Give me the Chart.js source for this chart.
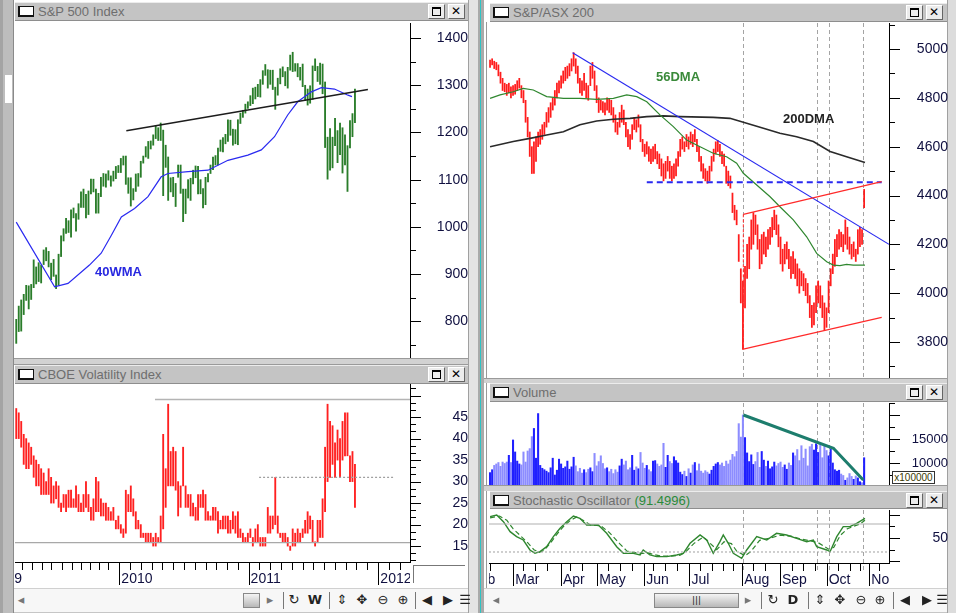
<!DOCTYPE html>
<html>
<head>
<meta charset="utf-8">
<title>S&amp;P 500 / S&amp;P/ASX 200</title>
<script src="https://cdn.jsdelivr.net/npm/chart.js@4.4.1/dist/chart.umd.min.js"></script>
<style>
  body { margin: 0; width: 956px; height: 613px; position: relative; overflow: hidden; background: #c6c6c6; font-family: "Liberation Sans", Arial, sans-serif; }
  .box { position: absolute; }
  .pane { position: absolute; background: #fff; }
  .title { position: absolute; background: #c4c4c4; border-top: 1px solid #ececec; border-bottom: 1px solid #8e8e8e; box-sizing: border-box; }
  .title .ico { position: absolute; left: 3px; top: 3px; width: 13px; height: 8px; background: #fff; border: 1px solid #111; border-bottom-width: 2px; border-left-width: 2px; }
  .title .txt { position: absolute; left: 23px; top: 1px; font-size: 13px; color: #6e6e6e; white-space: nowrap; }
  .title .b { position: absolute; top: 1px; width: 17px; height: 15px; background: #ececec; border: 1px solid; border-color: #fff #666 #666 #fff; box-sizing: border-box; }
  .title .max::after { content: ""; position: absolute; left: 3px; top: 2px; width: 7px; height: 6px; border: 1px solid #000; border-top-width: 2px; }
  .title .cls::after { content: "\2715"; position: absolute; left: 2px; top: -1px; font: bold 12px "DejaVu Sans"; color: #000; }
  canvas { position: absolute; }
  .lbl { position: absolute; font-weight: bold; font-size: 13px; white-space: nowrap; }
  .tb { position: absolute; top: 588px; height: 23px; background: #f7f7f7; border-top: 1px solid #d0d0d0; }
  .tb span { position: absolute; top: 3px; font: 13px "DejaVu Sans"; color: #222; transform: translateX(-50%); }
  .tb .sep { top: 3px; width: 1px; height: 17px; background: #777; transform: none; }
  .tb .thumb { top: 4px; height: 13px; background: linear-gradient(#f4f4f4, #b8b8b8); border: 1px solid #888; transform: none; font-size: 9px; text-align: center; line-height: 13px; }
</style>
</head>
<body>
<!-- window frame -->
<div class="box" style="left:0;top:0;width:14px;height:613px;background:#bdbdbd;border-left:3px solid #a4a4a4;box-sizing:border-box;border-right:1px solid #8a8a8a"></div>
<div class="box" style="left:5px;top:75px;width:7px;height:28px;background:#fff"></div>
<div class="pane" style="left:14px;top:0;width:455px;height:588px"></div>
<div class="box" style="left:14px;top:358px;width:455px;height:7px;background:#d2d2d2;border-top:1px solid #9a9a9a;border-bottom:1px solid #9a9a9a;box-sizing:border-box"></div>
<div class="box" style="left:468px;top:0;width:10px;height:613px;background:#e4e4e4;border-left:1px solid #a0a0a0;box-sizing:border-box"></div>
<div class="box" style="left:478px;top:0;width:6px;height:613px;background:#aaaaaa"></div>
<div class="box" style="left:480px;top:0;width:1px;height:613px;background:#2ec4c4"></div>
<div class="pane" style="left:484px;top:0;width:464px;height:588px"></div>
<div class="box" style="left:486px;top:22px;width:1px;height:566px;background:#9a9a9a"></div>
<div class="box" style="left:484px;top:378px;width:464px;height:5px;background:#d2d2d2;border-top:1px solid #9a9a9a;box-sizing:border-box"></div>
<div class="box" style="left:484px;top:485px;width:464px;height:6px;background:#d2d2d2;border-top:1px solid #9a9a9a;box-sizing:border-box"></div>
<div class="box" style="left:947px;top:0;width:9px;height:613px;background:#dcdcdc;border-left:1px solid #a0a0a0;box-sizing:border-box"></div>

<!-- title bars -->
<div class="title" style="left:15px;top:2px;width:453px;height:19px"><div class="ico"></div><div class="txt">S&amp;P 500 Index</div><div class="b max" style="right:23px"></div><div class="b cls" style="right:3px"></div></div>
<div class="title" style="left:15px;top:365px;width:453px;height:19px"><div class="ico"></div><div class="txt">CBOE Volatility Index</div><div class="b max" style="right:23px"></div><div class="b cls" style="right:3px"></div></div>
<div class="title" style="left:490px;top:3px;width:457px;height:19px"><div class="ico"></div><div class="txt">S&amp;P/ASX 200</div><div class="b max" style="right:24px"></div><div class="b cls" style="right:4px"></div></div>
<div class="title" style="left:490px;top:383px;width:457px;height:19px"><div class="ico"></div><div class="txt">Volume</div><div class="b max" style="right:24px"></div><div class="b cls" style="right:4px"></div></div>
<div class="title" style="left:490px;top:491px;width:457px;height:18px"><div class="ico"></div><div class="txt">Stochastic Oscillator <span style="color:#2a8a3a">(91.4996)</span></div><div class="b max" style="right:24px"></div><div class="b cls" style="right:4px"></div></div>

<!-- charts -->
<canvas id="spx" width="453" height="335" style="left:15px;top:23px"></canvas>
<canvas id="vix" width="453" height="204" style="left:15px;top:384px"></canvas>
<canvas id="asx" width="459" height="355" style="left:489px;top:23px"></canvas>
<canvas id="vol" width="459" height="82" style="left:489px;top:403px"></canvas>
<canvas id="sto" width="459" height="78" style="left:489px;top:510px"></canvas>

<div class="lbl" style="left:95px;top:264px;color:#2828e0">40WMA</div>
<div class="lbl" style="left:656px;top:69px;color:#3a8a3a">56DMA</div>
<div class="lbl" style="left:783px;top:111px;color:#222">200DMA</div>
<div class="box" style="left:892px;top:471px;width:43px;height:13px;background:#fff;border:1px solid #333;box-sizing:border-box;font-size:10px;line-height:11px;color:#3a3a00;text-align:center">x100000</div>
<div class="box" style="left:413px;top:565px;width:52px;height:18px;border-left:1px solid #777;border-top:1px solid #777;box-sizing:border-box"></div>

<!-- toolbars -->
<div class="tb" style="left:14px;width:454px">
  <span style="left:7px;color:#777">&#9666;</span>
  <span class="thumb" style="left:229px;width:15px"></span>
  <span style="left:256px;color:#777">&#9656;</span>
  <span class="sep" style="left:269px"></span>
  <span style="left:280px">&#8635;</span>
  <span style="left:301px;font-weight:bold">W</span>
  <span class="sep" style="left:315px"></span>
  <span style="left:328px">&#8661;</span>
  <span style="left:348px">&#10021;</span>
  <span style="left:369px">&#8854;</span>
  <span style="left:389px">&#8853;</span>
  <span class="sep" style="left:401px"></span>
  <span style="left:413px">&#9664;</span>
  <span style="left:434px">&#9654;</span>
  <span style="left:451px">&#9776;</span>
</div>
<div class="tb" style="left:484px;width:463px">
  <span style="left:12px;color:#777">&#9666;</span>
  <span class="thumb" style="left:170px;width:83px">|||</span>
  <span style="left:264px;color:#777">&#9656;</span>
  <span class="sep" style="left:277px"></span>
  <span style="left:289px">&#8635;</span>
  <span style="left:309px;font-weight:bold">D</span>
  <span class="sep" style="left:324px"></span>
  <span style="left:336px">&#8661;</span>
  <span style="left:356px">&#10021;</span>
  <span style="left:377px">&#8854;</span>
  <span style="left:396px">&#8853;</span>
  <span class="sep" style="left:409px"></span>
  <span style="left:421px">&#9664;</span>
  <span style="left:443px">&#9654;</span>
  <span style="left:458px">&#9776;</span>
</div>

<script>
// S&P 500 weekly bars, week 0 = mid March 2009
const spxLow = [
  753, 778, 779, 814, 844, 826, 846, 871, 879, 884,
  881, 920, 928, 915, 888, 895, 869, 876, 937, 970,
  986, 988, 978, 1019, 991, 1016, 1041, 1041, 1019, 1026,
  1070, 1074, 1029, 1029, 1064, 1086, 1084, 1099, 1086, 1097,
  1102, 1115, 1115, 1131, 1090, 1071, 1044, 1057, 1075, 1086,
  1105, 1135, 1148, 1145, 1165, 1173, 1187, 1183, 1183, 1066,
  1126, 1056, 1074, 1064, 1043, 1105, 1071, 1011, 1028, 1061,
  1056, 1091, 1104, 1070, 1070, 1040, 1047, 1095, 1113, 1121,
  1131, 1131, 1160, 1159, 1176, 1181, 1194, 1173, 1176, 1174,
  1219, 1232, 1241, 1251, 1257, 1261, 1271, 1276, 1275, 1302,
  1321, 1294, 1302, 1291, 1249, 1279, 1303, 1318, 1299, 1294,
  1332, 1329, 1330, 1318, 1311, 1297, 1268, 1258, 1262, 1270,
  1331, 1308, 1302, 1282, 1168, 1101, 1120, 1125, 1172, 1136,
  1153, 1114, 1131, 1075, 1167, 1191, 1221
];
const spxHigh = [
  804, 832, 845, 857, 876, 875, 878, 930, 915, 924,
  919, 951, 956, 948, 923, 931, 898, 942, 981, 996,
  1018, 1013, 1036, 1040, 1028, 1049, 1074, 1080, 1069, 1076,
  1101, 1101, 1080, 1071, 1105, 1113, 1112, 1119, 1108, 1118,
  1128, 1130, 1145, 1150, 1150, 1104, 1104, 1081, 1112, 1113,
  1139, 1150, 1170, 1181, 1182, 1195, 1214, 1210, 1220, 1205,
  1173, 1148, 1104, 1105, 1092, 1131, 1131, 1080, 1080, 1100,
  1103, 1120, 1129, 1128, 1100, 1081, 1105, 1113, 1131, 1148,
  1151, 1167, 1184, 1189, 1196, 1227, 1226, 1207, 1206, 1227,
  1241, 1247, 1260, 1265, 1278, 1294, 1296, 1302, 1312, 1331,
  1344, 1333, 1332, 1332, 1296, 1315, 1335, 1339, 1329, 1338,
  1364, 1370, 1346, 1346, 1338, 1345, 1300, 1292, 1299, 1341,
  1356, 1340, 1347, 1345, 1307, 1190, 1208, 1190, 1230, 1204,
  1220, 1210, 1195, 1172, 1225, 1240, 1292
];
const wma40X = [0, 15.4, 20.8, 29.4, 34.1, 38.2, 42.2, 47.5, 52.9, 58.2, 60.9, 69, 77, 85, 93, 98.4, 103.7, 109, 113, 118.5, 122.5, 127.8, 133.2, 134.8];
const wma40Y = [1010, 873, 880, 919, 944, 982, 1021, 1039, 1064, 1106, 1113, 1117, 1120, 1141, 1152, 1163, 1191, 1237, 1265, 1286, 1295, 1292, 1279, 1276];
const spxTrendX = [44.2, 141.2];
const spxTrendY = [1203.5, 1291];
const spxTicks = [800, 900, 1000, 1100, 1200, 1300, 1400];

// CBOE VIX weekly bars, same weeks
const vixLow = [
  40, 40, 38, 34, 33, 33, 34, 31, 29, 29,
  27, 27, 27, 27, 25, 25, 26, 24, 23, 24,
  23, 24, 24, 24, 24, 23, 23, 23, 24, 23,
  21, 21, 23, 23, 22, 22, 21, 21, 21, 21,
  19, 19, 18, 17, 18, 23, 23, 22, 19, 19,
  17, 17, 16, 16, 16, 15, 15, 16, 16, 19,
  24, 29, 29, 29, 28, 22, 24, 29, 24, 24,
  22, 22, 21, 21, 24, 24, 21, 21, 21, 21,
  21, 18, 19, 19, 19, 18, 18, 19, 18, 17,
  17, 16, 16, 16, 17, 15, 16, 16, 15, 15,
  15, 18, 18, 19, 20, 18, 17, 16, 16, 15,
  14, 15, 15, 16, 16, 17, 18, 18, 19, 16,
  15, 16, 17, 17, 23, 30, 31, 34, 31, 35,
  31, 35, 36, 36, 30, 30, 24
];
const vixHigh = [
  47, 46, 44, 41, 40, 39, 38, 36, 35, 34,
  33, 32, 30, 33, 31, 29, 30, 29, 25, 27,
  27, 28, 28, 26, 29, 27, 25, 27, 30, 27,
  24, 26, 31, 30, 26, 25, 25, 24, 23, 24,
  21, 22, 20, 19, 28, 27, 29, 26, 23, 21,
  20, 18, 18, 18, 18, 17, 18, 17, 22, 41,
  33, 48, 37, 38, 37, 30, 29, 38, 29, 27,
  27, 25, 24, 27, 27, 28, 27, 23, 22, 24,
  24, 23, 21, 22, 22, 22, 21, 23, 22, 23,
  19, 18, 17, 18, 19, 17, 19, 20, 17, 17,
  17, 24, 22, 22, 31, 22, 18, 18, 18, 17,
  15, 19, 18, 19, 18, 19, 21, 23, 22, 21,
  16, 21, 21, 26, 38, 48, 44, 43, 39, 42,
  40, 44, 46, 46, 36, 37, 34
];
const vixTopX = [55.7, 158.1], vixTopY = [49.1, 49.1];
const vixBaseX = [-0.5, 158.1], vixBaseY = [15.8, 15.8];
const vixMidX = [97.5, 151.3], vixMidY = [31, 31];
const vixTicks = [15, 20, 25, 30, 35, 40, 45];

// weekly axis: month ticks and year labels
const weekMonthTicks = [2.3, 6.4, 10.2, 14, 18.2, 22.3, 26, 29.6, 33.4, 37, 45.7, 50, 54.4, 58.7, 63, 67.4, 71.7, 76, 80.4, 84.7, 89,
  97.6, 102, 106.3, 110.6, 115, 119.3, 123.6, 128, 132.3, 136.6, 141, 149.7, 154];
const weekYearPos = [-11, 41.4, 93.3, 145.4];
const weekYearText = ['2009', '2010', '2011', '2012'];

// S&P/ASX 200 daily bars, day 0 = mid February 2011
const asxLow = [
  4925, 4935, 4920, 4915, 4890, 4860, 4830, 4825, 4810, 4820,
  4800, 4810, 4815, 4830, 4840, 4800, 4780, 4700, 4640, 4560,
  4490, 4490, 4540, 4600, 4610, 4630, 4650, 4680, 4700, 4720,
  4750, 4770, 4800, 4820, 4840, 4860, 4870, 4880, 4890, 4910,
  4930, 4900, 4860, 4820, 4810, 4830, 4800, 4790, 4850, 4880,
  4830, 4780, 4740, 4750, 4740, 4730, 4750, 4740, 4730, 4700,
  4660, 4650, 4680, 4700, 4690, 4640, 4600, 4590, 4630, 4670,
  4660, 4680, 4620, 4580, 4560, 4570, 4540, 4530, 4540, 4550,
  4530, 4510, 4480, 4460, 4470, 4500, 4470, 4460, 4470, 4480,
  4520, 4560, 4590, 4580, 4600, 4590, 4610, 4600, 4620, 4580,
  4540, 4500, 4470, 4460, 4450, 4460, 4500, 4540, 4570, 4580,
  4560, 4530, 4520, 4450, 4440, 4430, 4330, 4300, 4280, 4130,
  3960, 3770, 3940, 4060, 4100, 4180, 4200, 4240, 4180, 4100,
  4120, 4160, 4150, 4180, 4200, 4230, 4260, 4240, 4190, 4120,
  4090, 4120, 4140, 4100, 4060, 4080, 4060, 4030, 4000, 4030,
  4010, 3990, 3960, 3900, 3860, 3870, 3920, 3960, 3940, 3900,
  3850, 3860, 3920, 4030, 4080, 4110, 4150, 4180, 4190, 4170,
  4200, 4180, 4160, 4140, 4150, 4130, 4160, 4190, 4200, 4350
];
const asxHigh = [
  4955, 4960, 4950, 4945, 4935, 4905, 4880, 4860, 4855, 4860,
  4845, 4850, 4855, 4870, 4880, 4850, 4830, 4790, 4720, 4660,
  4600, 4620, 4640, 4660, 4670, 4690, 4700, 4740, 4760, 4780,
  4800, 4830, 4860, 4870, 4890, 4910, 4925, 4930, 4940, 4960,
  4985, 4960, 4930, 4880, 4870, 4900, 4860, 4850, 4930, 4945,
  4910, 4850, 4800, 4790, 4785, 4780, 4800, 4795, 4790, 4760,
  4730, 4700, 4740, 4770, 4750, 4700, 4670, 4650, 4690, 4720,
  4710, 4730, 4690, 4630, 4610, 4620, 4600, 4590, 4600, 4610,
  4580, 4570, 4550, 4530, 4540, 4560, 4540, 4520, 4530, 4550,
  4580, 4630, 4640, 4620, 4650, 4640, 4660, 4650, 4670, 4630,
  4600, 4560, 4530, 4510, 4500, 4520, 4560, 4590, 4620, 4625,
  4610, 4580, 4570, 4520, 4500, 4480, 4410, 4360, 4340, 4240,
  4100, 4050, 4110, 4200, 4230, 4300, 4330, 4320, 4280, 4220,
  4240, 4250, 4230, 4260, 4270, 4310, 4340, 4320, 4280, 4230,
  4180, 4200, 4210, 4180, 4150, 4170, 4140, 4120, 4100, 4090,
  4080, 4060, 4040, 3990, 3950, 3960, 4030, 4050, 4030, 3990,
  3960, 3940, 4050, 4100, 4160, 4220, 4240, 4260, 4250, 4240,
  4300, 4270, 4230, 4200, 4210, 4180, 4260, 4270, 4260, 4425
];
const dma56X = [0, 4.8, 11.1, 15.9, 20.7, 27.1, 35.1, 43, 51, 59, 65.4, 70.2, 75, 81.3, 87.7, 94.1, 100.5, 106.8, 113.2, 118, 121.2, 127.6, 134, 138.7, 145.1, 151.5, 156.3, 161.1, 164.3, 167.4, 170.6, 173.8, 179.4];
const dma56Y = [4798, 4812, 4825, 4839, 4832, 4805, 4798, 4798, 4794, 4798, 4812, 4805, 4784, 4730, 4682, 4627, 4600, 4573, 4559, 4532, 4491, 4443, 4395, 4354, 4300, 4231, 4163, 4129, 4115, 4113, 4118, 4115, 4115];
const dma200X = [0, 11.1, 19.1, 27.1, 35.1, 43, 51, 59, 67, 75, 82.9, 90.9, 106.8, 114.8, 122.8, 130.8, 138.7, 146.7, 154.7, 162.7, 170.6, 179.4];
const dma200Y = [4600, 4621, 4634, 4648, 4661, 4690, 4705, 4712, 4716, 4723, 4726, 4723, 4720, 4716, 4696, 4675, 4655, 4641, 4621, 4580, 4559, 4535];
const downTrendX = [39.5, 190.9], downTrendY = [4985, 4200];
const supportX = [75, 187.4], supportY = [4454, 4454];
const chanTopX = [121.2, 187.4], chanTopY = [4323, 4457];
const chanLowX = [121.2, 187.4], chanLowY = [3771, 3901];
const chanSideX = [121.2, 121.2], chanSideY = [4323, 3771];
const asxTicks = [3800, 4000, 4200, 4400, 4600, 4800, 5000];

// ASX volume (x100000)
const asxVolume = [
  8000, 8600, 9500, 9800, 10100, 9300, 10200, 9900, 10200, 11600,
  10100, 14800, 12300, 10400, 9800, 9600, 12300, 10200, 12500, 13000,
  15500, 17200, 11000, 20300, 9500, 8900, 8600, 8300, 8000, 9000,
  11000, 7500, 8500, 10800, 9800, 8900, 9200, 10400, 8700, 9200,
  11200, 9400, 8200, 8900, 7900, 8600, 8000, 8700, 9000, 8200,
  12000, 9400, 10300, 11500, 9900, 8800, 9000, 8200, 8700, 7800,
  8600, 8100, 9400, 10800, 9600, 10400, 8600, 9000, 11600, 8500,
  9200, 8800, 12200, 10000, 8900, 9500, 8600, 8200, 10400, 10500,
  9800, 9300, 9600, 14100, 9100, 11600, 10300, 9900, 11300, 10500,
  10000, 8100, 7600, 8300, 7200, 8800, 7900, 9600, 10100, 8400,
  9800, 8300, 7900, 8400, 8100, 7700, 8500, 9300, 9800, 10100,
  9600, 10000, 9300, 10400, 9800, 10600, 11800, 11300, 12400, 18200,
  15400, 20000, 15300, 12100, 10300, 11700, 9700, 10300, 12200, 9100,
  12400, 10600, 9300, 10400, 8800, 9200, 10200, 9400, 9900, 10200,
  9100, 9600, 8700, 10000, 9500, 12100, 11500, 12800, 10500, 13600,
  11000, 12900, 9400, 13400, 13900, 12700, 14000, 12200, 13800, 11100,
  13600, 12600, 11500, 12900, 10000, 8600, 8300, 8500, 7700, 7400,
  6400, 6900, 7800, 7200, 6600, 7300, 6900, 6100, 5900, 11100
];
const volTrendX = [121.2, 164.3, 178.6], volTrendY = [20000, 13060, 6460];
const volTicks = [10000, 15000];

// stochastic %K (solid) and %D (dashed)
const stoKX = [0, 3.2, 6.4, 9.6, 12.7, 15.9, 19.1, 21.5, 23.9, 27.1, 30.3, 33.5, 36.7, 39.9, 43, 46.2, 51.8, 55.8, 60.6, 63.8,
  68.6, 71.8, 73.3, 76.5, 79.7, 84.5, 89.3, 92.5, 95.7, 100.5, 103.7, 106.8, 110, 111.6, 114, 116.4, 120.4, 122.8, 127.6, 132.4,
  137.1, 141.9, 146.7, 151.5, 154.7, 156.3, 161.1, 162.7, 165.9, 169, 172.2, 175.4, 179.4];
const stoKY = [95.7, 99.3, 85, 63.6, 52.9, 45.7, 24.3, 17.1, 20.7, 31.4, 52.9, 70.7, 85, 97.1, 92.1, 77.9, 77.9, 60, 31.4, 17.1,
  17.1, 13.6, 24.3, 13.6, 10, 10, 13.6, 17.1, 38.6, 56.4, 45.7, 17.1, 42.1, 56.4, 38.6, 17.1, 6.4, 24.3, 52.9, 45.7,
  60, 56.4, 49.3, 42.1, 45.7, 31.4, 24.3, 20.7, 52.9, 74.3, 74.3, 81.4, 92.1];
const stoDX = [0, 4.5, 8, 11, 14.5, 18, 21, 23.5, 26, 29, 32, 35, 38.5, 41.5, 44.5, 48, 53, 57, 62, 65.5,
  70, 73, 75.5, 78, 82, 86, 91, 94, 97.5, 102, 105, 108.5, 112, 115.5, 118, 122, 125, 129, 134, 139,
  144, 148.5, 153, 157, 162, 164.5, 167.5, 171, 174, 177, 179.4];
const stoDY = [93, 97, 88, 70, 55, 40, 25, 19, 24, 40, 58, 74, 88, 95, 88, 78, 76, 62, 38, 22,
  18, 17, 18, 15, 11, 11, 13, 22, 38, 52, 40, 25, 42, 38, 22, 12, 22, 45, 50, 56,
  54, 48, 44, 40, 26, 30, 55, 70, 75, 80, 88];
const stoTicks = [50];

// daily axis: weekly ticks, month labels, marker days
const dayWeekTicks = [0, 15.9, 21.5, 27.1, 38.3, 43.8, 56.6, 62.2, 67.8, 78.1, 83.7, 89.3, 100.5, 106, 111.6, 116.4, 126, 131.6, 144.3, 149.9, 155.5, 166.6, 172.2, 177, 186];
const dayMonthPos = [-10, 11.1, 33.9, 51.3, 73.8, 95.4, 120.7, 138.7, 161.1, 181.5];
const dayMonthText = ['Feb', 'Mar', 'Apr', 'May', 'Jun', 'Jul', 'Aug', 'Sep', 'Oct', 'Nov'];
const markerDays = [121.2, 156.6, 162.3, 178.6];

const labelColor = '#101040';

// tick marks, bottom axis labels and dashed day markers
const decor = {
  id: 'decor',
  beforeDatasetsDraw(chart, args, o) {
    if (!o.vLines) return;
    const ctx = chart.ctx, a = chart.chartArea, xs = chart.scales.x;
    ctx.save();
    ctx.strokeStyle = '#a4a4a4';
    ctx.lineWidth = 1;
    ctx.setLineDash([4, 3]);
    o.vLines.forEach(v => {
      const px = Math.round(xs.getPixelForValue(v)) + 0.5;
      ctx.beginPath();
      ctx.moveTo(px, a.top);
      ctx.lineTo(px, a.bottom + (o.xMinor ? 8 : 0));
      ctx.stroke();
    });
    ctx.restore();
  },
  afterDraw(chart, args, o) {
    if (!o.minor) return;
    const ctx = chart.ctx, a = chart.chartArea, xs = chart.scales.x, ys = chart.scales.y;
    ctx.save();
    ctx.strokeStyle = '#000';
    ctx.lineWidth = 1;
    ctx.beginPath();
    for (let k = Math.ceil(ys.min / o.minor - 1e-9); k * o.minor <= ys.max; k++) {
      const v = k * o.minor;
      const py = Math.round(ys.getPixelForValue(v)) + 0.5;
      const major = Math.abs(v / o.major - Math.round(v / o.major)) < 1e-6;
      ctx.moveTo(a.right, py);
      ctx.lineTo(a.right + (major ? 11 : 6), py);
    }
    if (o.xMinor) {
      o.xMinor.forEach(v => {
        const px = Math.round(xs.getPixelForValue(v)) + 0.5;
        ctx.moveTo(px, a.bottom);
        ctx.lineTo(px, a.bottom + 8);
      });
      o.xMajor.forEach(v => {
        const px = Math.round(xs.getPixelForValue(v)) + 0.5;
        ctx.moveTo(px, a.bottom);
        ctx.lineTo(px, a.bottom + 23);
      });
    }
    ctx.stroke();
    if (o.xMajor) {
      ctx.beginPath();
      ctx.rect(a.left, a.bottom, a.right - a.left, 40);
      ctx.clip();
      ctx.font = '14px "Liberation Sans"';
      ctx.fillStyle = labelColor;
      ctx.textAlign = 'left';
      ctx.textBaseline = 'alphabetic';
      o.xMajor.forEach((v, i) => ctx.fillText(o.xText[i], xs.getPixelForValue(v) + 2, a.bottom + 21));
    }
    ctx.restore();
  }
};
Chart.register(decor);

function yScale(min, max, ticks, width, pad, size) {
  return {
    type: 'linear', position: 'right', min: min, max: max,
    grid: { display: false, drawTicks: false },
    border: { display: true, color: '#000', width: 1 },
    afterBuildTicks: s => { s.ticks = ticks.map(v => ({ value: v })); },
    afterFit: s => { s.width = width; s.paddingTop = 0; s.paddingBottom = 0; },
    ticks: {
      autoSkip: false, crossAlign: 'far', padding: pad, color: labelColor,
      font: { family: 'Liberation Sans', size: size || 14 },
      callback: v => String(v)
    }
  };
}

function xScale(min, max, height) {
  return {
    type: 'linear', min: min, max: max, offset: false, display: height > 0,
    grid: { display: false, drawTicks: false },
    border: { display: true, color: '#000', width: 1 },
    ticks: { display: false },
    afterFit: s => { s.height = height; s.paddingLeft = 0; s.paddingRight = 0; }
  };
}

function line(xs, ys, color, width, dash) {
  return {
    type: 'line', order: 0,
    data: xs.map((x, i) => ({ x: x, y: ys[i] })),
    borderColor: color, borderWidth: width, borderDash: dash || [],
    pointRadius: 0, tension: 0, fill: false
  };
}

function rangeBars(lows, highs, color, thick) {
  return {
    type: 'bar', order: 1,
    data: lows.map((lo, i) => ({ x: i, y: [lo, highs[i]] })),
    backgroundColor: color, barThickness: thick, borderWidth: 0
  };
}

function makeChart(id, datasets, x, y, decorOpts) {
  return new Chart(document.getElementById(id), {
    type: 'bar',
    data: { datasets: datasets },
    options: {
      responsive: false, animation: false, events: [],
      layout: { padding: 0 },
      scales: { x: x, y: y },
      plugins: { legend: { display: false }, tooltip: { enabled: false }, decor: decorOpts }
    }
  });
}

const weekMin = -0.5, weekMax = 158.1;
const dayMin = -0.5, dayMax = 190.9;

makeChart('spx', [
  line(spxTrendX, spxTrendY, '#1c1c1c', 1.4),
  line(wma40X, wma40Y, '#2a2af0', 1.2),
  rangeBars(spxLow, spxHigh, '#2a7d2a', 1.2)
], xScale(weekMin, weekMax, 0), yScale(722, 1432, spxTicks, 58, 22), { minor: 50, major: 100 });

makeChart('vix', [
  line(vixTopX, vixTopY, '#b4b4b4', 1.5),
  line(vixBaseX, vixBaseY, '#a8a8a8', 1.2),
  line(vixMidX, vixMidY, '#a0a0a0', 1.2, [2, 2]),
  rangeBars(vixLow, vixHigh, '#ff2020', 1.2)
], xScale(weekMin, weekMax, 26), yScale(11.3, 52.7, vixTicks, 58, 37),
  { minor: 5 / 3, major: 5, xMinor: weekMonthTicks, xMajor: weekYearPos, xText: weekYearText });

makeChart('asx', [
  line(chanTopX, chanTopY, '#ff2a2a', 1.2),
  line(chanLowX, chanLowY, '#ff2a2a', 1.2),
  line(chanSideX, chanSideY, '#ff2a2a', 1, [3, 2]),
  line(supportX, supportY, '#2a2af0', 2, [6, 4]),
  line(downTrendX, downTrendY, '#2a2af0', 1.2),
  line(dma56X, dma56Y, '#2f872f', 1.2),
  line(dma200X, dma200Y, '#2a2a2a', 1.6),
  rangeBars(asxLow, asxHigh, '#ff1c1c', 1.1)
], xScale(dayMin, dayMax, 0), yScale(3652.6, 5106.5, asxTicks, 59, 23),
  { minor: 100, major: 200, vLines: markerDays });

const volColors = asxVolume.map((v, i) => (i > 0 && asxHigh[i] < asxHigh[i - 1]) ? '#8c8cff' : '#2020ff');
makeChart('vol', [
  line(volTrendX, volTrendY, '#1d7d6d', 3),
  { type: 'bar', order: 1, data: asxVolume.map((v, i) => ({ x: i, y: v })), backgroundColor: volColors, barThickness: 1.4, borderWidth: 0 }
], xScale(dayMin, dayMax, 0), yScale(5417, 22500, volTicks, 59, 9, 13),
  { minor: 2500, major: 5000, vLines: markerDays });

makeChart('sto', [
  line([dayMin, dayMax], [80, 80], '#b0b0b0', 1.2),
  line([dayMin, dayMax], [20, 20], '#a0a0a0', 1, [2, 2]),
  line(stoDX, stoDY, '#2f872f', 1.2, [5, 3]),
  line(stoKX, stoKY, '#2f872f', 1.4)
], xScale(dayMin, dayMax, 25), yScale(-3.6, 110, stoTicks, 59, 38),
  { minor: 25, major: 50, vLines: markerDays, xMinor: dayWeekTicks, xMajor: dayMonthPos, xText: dayMonthText });
</script>
</body>
</html>
